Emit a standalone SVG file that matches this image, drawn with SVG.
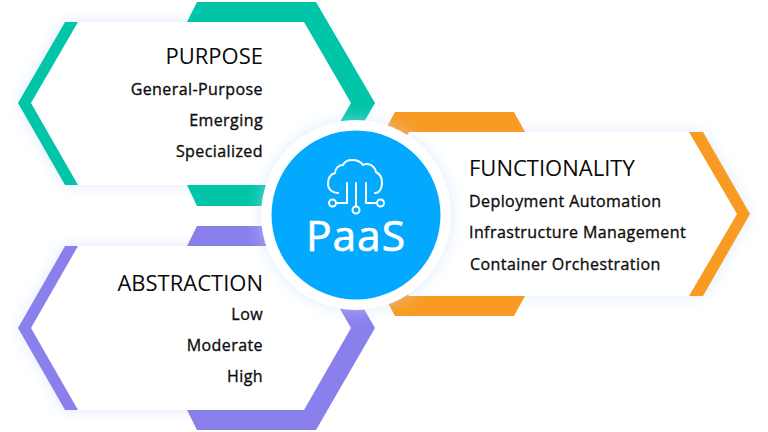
<svg xmlns="http://www.w3.org/2000/svg" width="768" height="432" viewBox="0 0 768 432">
  <style>
    .title { font: 400 22px "Open Sans", sans-serif; fill: #0a0a0a; }
    .item { font: 400 16px "Open Sans", sans-serif; fill: #0d0d0d; letter-spacing: .42px; stroke: #0d0d0d; stroke-width: .35px; }
    .end { text-anchor: end; }
    .face { fill: #fff; filter: url(#glow); }
    .icon { fill: none; stroke: #fff; stroke-width: 2; stroke-linecap: round; stroke-linejoin: round; }
  </style>
  <defs>
    <filter id="glow" x="-20%" y="-20%" width="140%" height="140%">
      <feDropShadow dx="0" dy="0" stdDeviation="8" flood-color="#c6dcfb" flood-opacity=".55"/>
    </filter>
  </defs>
  <rect width="768" height="432" fill="#fff"/>

  <g id="purpose">
    <polygon class="face" points="65,22 304,22 351,103 304,185 65,185 18,103"/>
    <polygon fill="#00c5a8" points="65,22 187,22 197,2 316,2 375,103 316,206 197,206 187,185 65,185 18,103"/>
    <polygon fill="#fff" points="78,22 304,22 351,103 304,185 78,185 31,103"/>
    <text class="title end" x="263" y="63.5">PURPOSE</text>
    <text class="item end" x="263" y="95">General-Purpose</text>
    <text class="item end" x="263" y="126">Emerging</text>
    <text class="item end" x="263" y="157">Specialized</text>
  </g>

  <g id="abstraction">
    <polygon class="face" points="65,246 304,246 351,328 304,410 65,410 18,328"/>
    <polygon fill="#8a80ec" points="65,246 187,246 197,226 316,226 375,328 316,430 197,430 187,410 65,410 18,328"/>
    <polygon fill="#fff" points="78,246 304,246 351,328 304,410 78,410 31,328"/>
    <text class="title end" x="263" y="290.5">ABSTRACTION</text>
    <text class="item end" x="263" y="320">Low</text>
    <text class="item end" x="263" y="351">Moderate</text>
    <text class="item end" x="263" y="382">High</text>
  </g>

  <g id="functionality">
    <polygon class="face" points="409,132 703,132 750,214 703,296 409,296 362,214"/>
    <polygon fill="#f99a22" points="395,112 514,112 525,132 703,132 750,214 703,296 525,296 514,316 395,316 340,214"/>
    <polygon fill="#fff" points="409,132 689,132 737,214 689,296 409,296 362,214"/>
    <text class="title" x="469" y="175.5">FUNCTIONALITY</text>
    <text class="item" x="469" y="207">Deployment Automation</text>
    <text class="item" x="469" y="238">Infrastructure Management</text>
    <text class="item" x="470" y="270">Container Orchestration</text>
  </g>

  <g id="paas">
    <circle cx="356" cy="215" r="95" fill="#fff" filter="url(#glow)"/>
    <circle cx="356" cy="215" r="84.5" fill="#03a9fe"/>
    <g class="icon">
      <path d="M338 193C332 193 328 189 328 184C328 178 331 174 335 173C335 168 339 165 343 165C345 161 349 160 352 160C357 160 361 162 363 165C368 162 375 166 376 172C380 174 382 178 382 183C382 189 379 193 375 193"/>
      <path d="M356 183V206"/>
      <path d="M347 183V203H336"/>
      <path d="M366 183V203H377"/>
      <circle cx="332.500" cy="203" r="3.500"/>
      <circle cx="380.500" cy="203" r="3.500"/>
      <circle cx="356" cy="210" r="3.500"/>
    </g>
    <text x="356" y="251" text-anchor="middle" font-family="'Open Sans', sans-serif" font-size="42.500" font-weight="400" letter-spacing="1" fill="#fff" stroke="#fff" stroke-width=".7">PaaS</text>
  </g>
</svg>
